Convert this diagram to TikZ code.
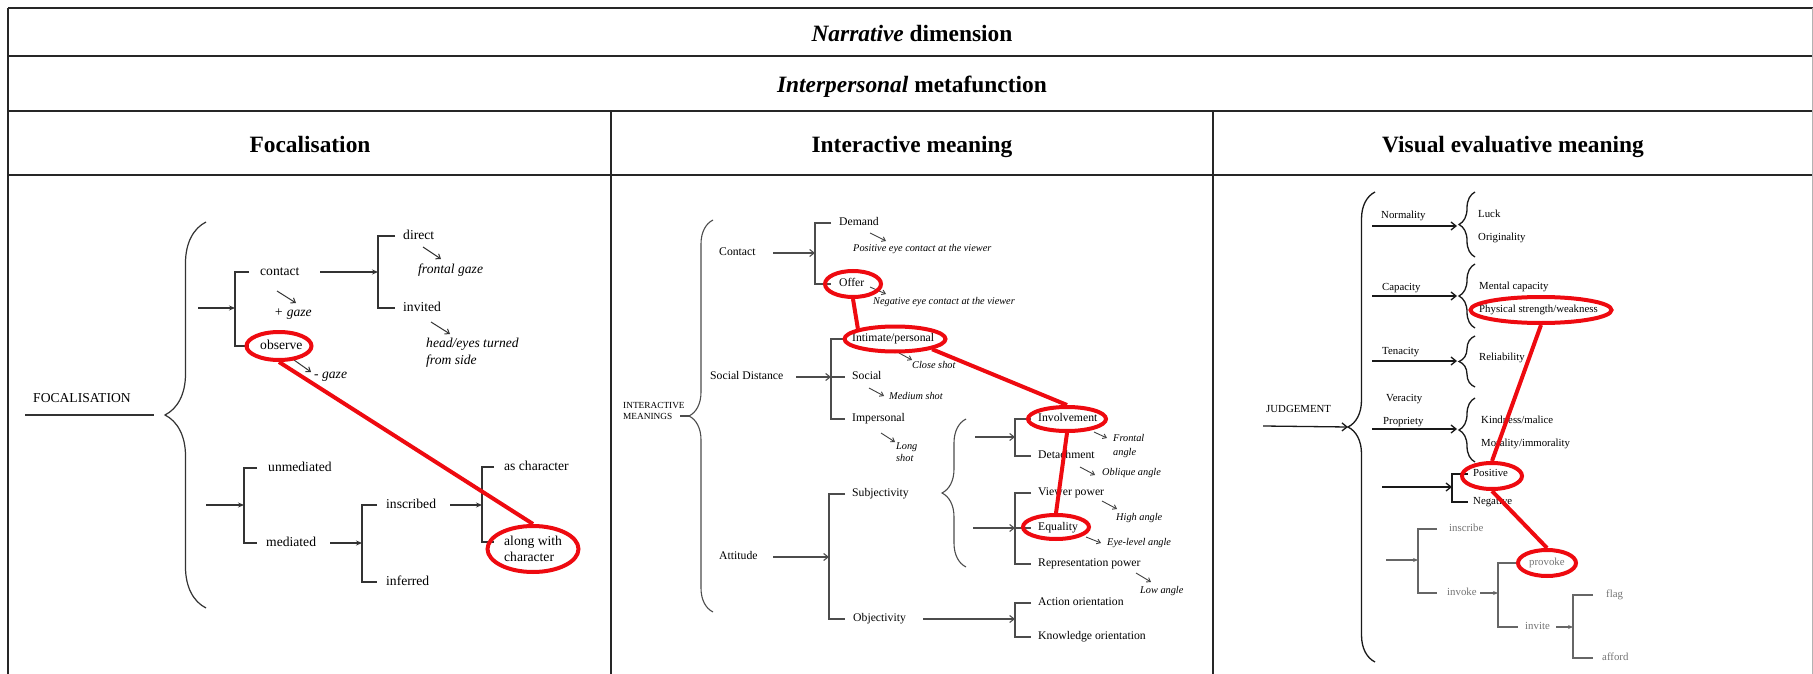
\documentclass[tikz,border=0pt]{standalone}
\usepackage{fontspec}
\setmainfont{Liberation Serif}
\usetikzlibrary{arrows.meta,decorations.pathreplacing,shapes.geometric}
\definecolor{kirmizi}{RGB}{238,10,16}

\begin{document}
\begin{tikzpicture}[x=1pt, y=-1pt,
    cerceve/.style={line width=1.8pt, black!85},
    baslik/.style={font=\fontsize{23.4}{28}\selectfont\bfseries, inner sep=0pt,
      text height=16pt, text depth=4.5pt},
    y1/.style={font=\fontsize{13.6}{16}\selectfont, anchor=west, inner sep=0pt,
      text height=9.5pt, text depth=2.7pt},
    i1/.style={y1, font=\fontsize{13.6}{16}\selectfont\itshape},
    y2/.style={font=\fontsize{11.7}{14}\selectfont, anchor=west, inner sep=0pt,
      text height=8.2pt, text depth=2.3pt},
    i2/.style={y2, font=\fontsize{10.3}{12}\selectfont\itshape},
    y3/.style={font=\fontsize{10.8}{13}\selectfont, anchor=west, inner sep=0pt,
      text height=7.6pt, text depth=2.2pt},
    g3/.style={y3, text=black!55},
    cok/.style={anchor=west, inner sep=0pt, align=left},
    dal1/.style={line width=1.2pt, black!80},
    dal2/.style={line width=1.1pt, black!70},
    dal3/.style={line width=1.3pt, black!90},
    dalg/.style={line width=1.2pt, black!60},
    ok1/.style={dal1, -{Stealth[length=6pt, width=5pt]}},
    ok2/.style={dal2, -{Straight Barb[length=4.5pt, width=7pt]}},
    ok3/.style={dal3, -{Straight Barb[length=5pt, width=8pt]}},
    okg/.style={dalg, -{Stealth[length=5pt, width=4pt]}},
    egik1/.style={line width=1pt, black!80, -{Straight Barb[length=4pt, width=6pt]}},
    egik2/.style={line width=.9pt, black!75, -{Straight Barb[length=3.5pt, width=5pt]}},
    parantez/.style={decorate, decoration={brace, amplitude=#1}},
    halka/.style={ellipse, draw=kirmizi, line width=4pt, inner sep=0pt},
    bag/.style={kirmizi, line width=4pt}]
  \useasboundingbox (0,0) rectangle (1813,674);

  % tablo: iki baslik satiri + uc sutun
  \draw[cerceve] (8,8) -- (1813,8) (8,56) -- (1813,56)
    (8,111) -- (1813,111) (8,175) -- (1813,175);
  \draw[cerceve] (8,8) -- (8,674) (611,111) -- (611,674) (1213,111) -- (1213,674);
  \draw[black!30, line width=1pt] (1812,8) -- (1812,674);

  \node[baslik] (anlati) at (912,36) {\textit{Narrative} dimension};
  \node[baslik] (kisiler) at (912,87) {\textit{Interpersonal} metafunction};
  \node[baslik] (odak) at (310,147) {Focalisation};
  \node[baslik] (etkilesim) at (912,147) {Interactive meaning};
  \node[baslik] (deger) at (1513,147) {Visual evaluative meaning};

  % 1. sutun: odaklanma agaci
  \node[y1] (foc) at (33,399) {FOCALISATION};
  \coordinate (fa) at (25,415);
  \coordinate (fb) at (154,415);
  \draw[dal1] (fa) -- (fb);
  \draw[dal1, parantez=41pt] (206,608) -- (206,222);

  \node[y1] (contact) at (260,272) {contact};
  \node[y1] (observe) at (260,346) {observe};
  \coordinate (j1a) at (198,308);
  \coordinate (j1) at (235,308);
  \draw[ok1] (j1a) -- (j1);
  \draw[dal1] ([xshift=-11pt]contact.west) -| (j1) |- ([xshift=-11pt]observe.west);

  \node[y1] (direct) at (403,236) {direct};
  \node[y1] (invited) at (403,308) {invited};
  \coordinate (j2a) at (320,272);
  \coordinate (j2) at (378,272);
  \draw[ok1] (j2a) -- (j2);
  \draw[dal1] ([xshift=-8pt]direct.west) -| (j2) |- ([xshift=-8pt]invited.west);

  \node[i1] (frontal) at (418,270) {frontal gaze};
  \node[i1] (pgaze) at (274,313) {+ gaze};
  \node[i1] (mgaze) at (314,375) {- gaze};
  \node[cok, font=\fontsize{13.6}{17}\selectfont\itshape] (head) at (426,353)
    {head/eyes turned\\from side};
  \draw[egik1] ([shift={(5,-23)}]frontal.west) -- ++(18,12);
  \draw[egik1] ([shift={(3,-22)}]pgaze.west) -- ++(19,12);
  \draw[egik1] ([shift={(5,-31)}]head.west) -- ++(19,12);
  \draw[egik1] ([shift={(-20,-15)}]mgaze.west) -- ++(17,12);

  \node[y1] (unmed) at (268,468) {unmediated};
  \node[y1] (med) at (266,543) {mediated};
  \coordinate (j3a) at (206,505);
  \coordinate (j3) at (244,505);
  \draw[ok1] (j3a) -- (j3);
  \draw[dal1] ([xshift=-11pt]unmed.west) -| (j3) |- ([xshift=-9pt]med.west);

  \node[y1] (inscribed) at (386,505) {inscribed};
  \node[y1] (inferred) at (386,582) {inferred};
  \coordinate (j4a) at (330,543);
  \coordinate (j4) at (362,543);
  \draw[ok1] (j4a) -- (j4);
  \draw[dal1] ([xshift=-9pt]inscribed.west) -| (j4) |- ([xshift=-9pt]inferred.west);

  \node[y1] (ascha) at (504,467) {as character};
  \node[cok, font=\fontsize{13.6}{15.7}\selectfont] (along) at (504,549)
    {along with\\character};
  \coordinate (j5a) at (450,505);
  \coordinate (j5) at (482,505);
  \draw[ok1] (j5a) -- (j5);
  \draw[dal1] ([xshift=-10pt]ascha.west) -| (j5) |- ([shift={(-10,-7)}]along.west);

  % 2. sutun: etkilesimsel anlam
  \node[cok, font=\fontsize{9.3}{11}\selectfont] (im) at (623,411) {INTERACTIVE\\MEANINGS};
  \coordinate (m0) at (680,416);
  \coordinate (m1) at (689,416);
  \draw[dal2] (m0) -- (m1);
  \draw[dal2, parantez=24pt] (713,612) -- (713,220);

  \node[y2] (contact2) at (719,253) {Contact};
  \node[y2] (demand) at (839,223) {Demand};
  \node[y2] (offer) at (839,284) {Offer};
  \coordinate (c1a) at (773,253);
  \coordinate (c1) at (815,253);
  \draw[ok2] (c1a) -- (c1);
  \draw[dal2] ([xshift=-8pt]demand.west) -| (c1) |- ([xshift=-8pt]offer.west);
  \node[i2] (pos) at (853,249) {Positive eye contact at the viewer};
  \node[i2] (neg) at (873,302) {Negative eye contact at the viewer};
  \draw[egik2] ([shift={(17,-16)}]pos.west) -- ++(16,8);
  \draw[egik2] ([shift={(-3,-15)}]neg.west) -- ++(16,7);

  \node[y2] (sd) at (710,377) {Social Distance};
  \node[y2] (intim) at (852,339) {Intimate/personal};
  \node[y2] (social) at (852,377) {Social};
  \node[y2] (imper) at (852,419) {Impersonal};
  \coordinate (c2a) at (796,377);
  \coordinate (c2) at (831,377);
  \draw[ok2] (c2a) -- (c2);
  \draw[dal2] ([xshift=-7pt]intim.west) -| (c2) |- ([xshift=-7pt]imper.west);
  \draw[dal2] (c2) -- ([xshift=-7pt]social.west);
  \node[i2] (close) at (912,366) {Close shot};
  \node[i2] (medium) at (889,397) {Medium shot};
  \node[cok, font=\fontsize{10.3}{12}\selectfont\itshape] (long) at (896,452) {Long\\shot};
  \draw[egik2] ([shift={(-13,-13)}]close.west) -- ++(13,7);
  \draw[egik2] ([shift={(-20,-9)}]medium.west) -- ++(15,8);
  \draw[egik2] ([shift={(-15,-19)}]long.west) -- ++(14,9);

  \node[y2] (att) at (719,557) {Attitude};
  \node[y2] (subj) at (852,494) {Subjectivity};
  \node[y2] (obj) at (853,619) {Objectivity};
  \coordinate (c3a) at (773,557);
  \coordinate (c3) at (829,557);
  \draw[ok2] (c3a) -- (c3);
  \draw[dal2] ([xshift=-7pt]subj.west) -| (c3) |- ([xshift=-8pt]obj.west);

  \node[y2] (action) at (1038,603) {Action orientation};
  \node[y2] (know) at (1038,637) {Knowledge orientation};
  \coordinate (c4a) at (923,619);
  \coordinate (c4) at (1015,619);
  \draw[ok2] (c4a) -- (c4);
  \draw[dal2] ([xshift=-7pt]action.west) -| (c4) |- ([xshift=-7pt]know.west);

  \draw[dal2, parantez=24pt] (966,567) -- (966,419);

  \node[y2] (invol) at (1038,419) {Involvement};
  \node[y2] (detach) at (1038,456) {Detachment};
  \coordinate (c5a) at (975,437);
  \coordinate (c5) at (1015,437);
  \draw[ok2] (c5a) -- (c5);
  \draw[dal2] ([xshift=-7pt]invol.west) -| (c5) |- ([xshift=-7pt]detach.west);

  \node[y2] (viewer) at (1038,493) {Viewer power};
  \node[y2] (equal) at (1038,528) {Equality};
  \node[y2] (repr) at (1038,564) {Representation power};
  \coordinate (c6a) at (973,528);
  \coordinate (c6) at (1015,528);
  \draw[ok2] (c6a) -- (c6);
  \draw[dal2] ([xshift=-7pt]viewer.west) -| (c6) |- ([xshift=-7pt]repr.west);
  \draw[dal2] (c6) -- ([xshift=-7pt]equal.west);

  \node[cok, font=\fontsize{10.3}{14}\selectfont\itshape] (frontal2) at (1113,446) {Frontal\\angle};
  \node[i2] (oblique) at (1102,473) {Oblique angle};
  \node[i2] (high) at (1116,518) {High angle};
  \node[i2] (eye) at (1107,543) {Eye-level angle};
  \node[i2] (low) at (1140,591) {Low angle};
  \draw[egik2] ([shift={(-19,-14)}]frontal2.west) -- ++(13,6);
  \draw[egik2] ([shift={(-22,-6)}]oblique.west) -- ++(15,8);
  \draw[egik2] ([shift={(-14,-17)}]high.west) -- ++(15,8);
  \draw[egik2] ([shift={(-21,-6)}]eye.west) -- ++(15,6);
  \draw[egik2] ([shift={(-4,-18)}]low.west) -- ++(15,9);

  % 3. sutun: yargi sistemi
  \node[y3] (judge) at (1266,410) {JUDGEMENT};
  \coordinate (ja) at (1263,426);
  \coordinate (jt) at (1348,427);
  \draw[ok3] (ja) -- (jt);
  \draw[dal3, parantez=27pt] (1375,662) -- (1375,192);

  \node[y3] (normal) at (1381,216) {Normality};
  \node[y3] (luck) at (1478,215) {Luck};
  \node[y3] (orig) at (1478,238) {Originality};
  \coordinate (n0) at (1372,226);
  \coordinate (n1) at (1457,226);
  \draw[ok3] (n0) -- (n1);
  \draw[dal3, parantez=16pt] (1475,257) -- (1475,192);

  \node[y3] (capac) at (1382,288) {Capacity};
  \node[y3] (mental) at (1479,287) {Mental capacity};
  \node[y3] (phys) at (1479,310) {Physical strength/weakness};
  \coordinate (k0) at (1372,296);
  \coordinate (k1) at (1457,296);
  \draw[ok3] (k0) -- (k1);
  \draw[dal3, parantez=16pt] (1475,328) -- (1475,264);

  \node[y3] (tenac) at (1382,352) {Tenacity};
  \node[y3] (reliab) at (1479,358) {Reliability};
  \coordinate (t0) at (1372,361);
  \coordinate (t1) at (1457,361);
  \draw[ok3] (t0) -- (t1);
  \draw[dal3, parantez=16pt] (1475,387) -- (1475,336);

  \node[y3] (verac) at (1386,399) {Veracity};
  \node[y3] (propr) at (1383,422) {Propriety};
  \node[y3] (kind) at (1481,421) {Kindness/malice};
  \node[y3] (moral) at (1481,444) {Morality/immorality};
  \coordinate (v0) at (1372,429);
  \coordinate (v1) at (1457,429);
  \draw[ok3] (v0) -- (v1);
  \draw[dal3, parantez=16pt] (1475,462) -- (1475,398);

  \node[y3] (posv) at (1473,474) {Positive};
  \node[y3] (negv) at (1473,502) {Negative};
  \coordinate (p0) at (1382,487);
  \coordinate (p1) at (1452,487);
  \draw[ok3] (p0) -- (p1);
  \draw[dal3] ([xshift=-5pt]posv.west) -| (p1) |- ([xshift=-5pt]negv.west);

  % gri alt agac
  \node[g3] (inscr) at (1449,529) {inscribe};
  \node[g3] (invoke) at (1447,593) {invoke};
  \coordinate (g0) at (1386,560);
  \coordinate (g1) at (1418,560);
  \draw[okg] (g0) -- (g1);
  \draw[dalg] ([xshift=-12pt]inscr.west) -| (g1) |- ([xshift=-10pt]invoke.west);

  \node[g3] (provoke) at (1529,563) {provoke};
  \node[g3] (invite) at (1525,627) {invite};
  \coordinate (g2a) at (1480,593);
  \coordinate (g2) at (1498,593);
  \draw[okg] (g2a) -- (g2);
  \draw[dalg] ([xshift=-11pt]provoke.west) -| (g2) |- ([xshift=-7pt]invite.west);

  \node[g3] (flag) at (1606,595) {flag};
  \node[g3] (afford) at (1602,658) {afford};
  \coordinate (g3a) at (1556,627);
  \coordinate (g3) at (1573,627);
  \draw[okg] (g3a) -- (g3);
  \draw[dalg] ([xshift=-13pt]flag.west) -| (g3) |- ([xshift=-9pt]afford.west);

  % kirmizi halkalar ve baglari
  \node[halka, minimum width=65pt, minimum height=28pt] (h1) at (279,346) {};
  \node[halka, minimum width=91pt, minimum height=46pt] (h2) at (533,549) {};
  \draw[bag] (h1.south) -- (h2.north);

  \node[halka, minimum width=56pt, minimum height=26pt] (h3) at (853,284) {};
  \node[halka, minimum width=101pt, minimum height=25pt] (h4) at (895,339) {};
  \node[halka, minimum width=78pt, minimum height=24pt] (h5) at (1067,419) {};
  \node[halka, minimum width=66pt, minimum height=24pt] (h6) at (1056,527) {};
  \draw[bag] (h3.south) -- (h4.north west);
  \draw[bag] (h4.south east) -- (h5.north);
  \draw[bag] (h5.south) -- (h6.north);

  \node[halka, minimum width=141pt, minimum height=26pt] (h7) at (1541,310) {};
  \node[halka, minimum width=60pt, minimum height=26pt] (h8) at (1492,476) {};
  \node[halka, minimum width=58pt, minimum height=26pt] (h9) at (1547,563) {};
  \draw[bag] (h7.south) -- (h8.north);
  \draw[bag] (h8.south) -- (h9.north);
\end{tikzpicture}
\end{document}
